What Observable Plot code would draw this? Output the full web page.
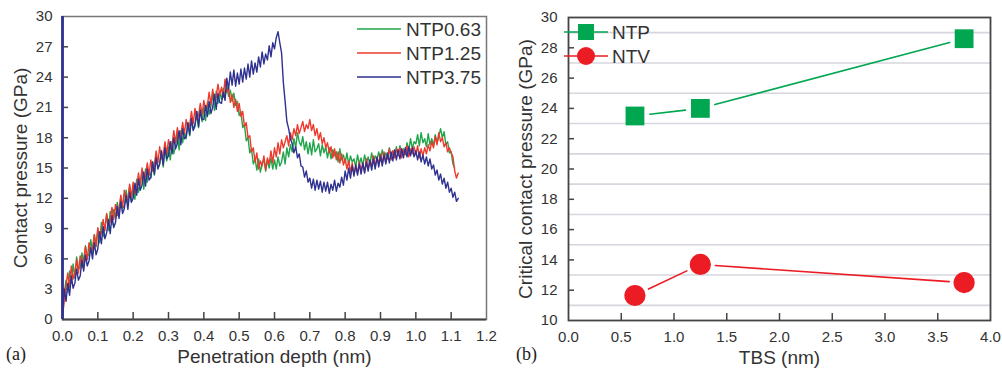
<!DOCTYPE html>
<html>
<head>
<meta charset="utf-8">
<script src="https://cdn.jsdelivr.net/npm/d3@7"></script>
<script src="https://cdn.jsdelivr.net/npm/@observablehq/plot@0.6"></script>
<style>
  body { margin: 0; background: #fff; }
  #wrap { position: relative; width: 1002px; height: 370px; overflow: hidden; font-family: "Liberation Sans", Arial, sans-serif; }
  #panelA, #panelB { position: absolute; top: 0; }
  #panelA { left: 0; }
  #panelB { left: 500px; }
  .tag { position: absolute; top: 344px; font-family: "Liberation Serif", "Times New Roman", serif; font-size: 18px; color: #222; }
  #legends { position: absolute; left: 0; top: 0; pointer-events: none; }
</style>
</head>
<body>
<div id="wrap">
  <div id="panelA"></div>
  <div id="panelB"></div>
  <div class="tag" style="left:6px">(a)</div>
  <div class="tag" style="left:516px">(b)</div>
  <svg id="legends" width="1002" height="370"></svg>
</div>
<script>
// ---- Panel (a): contact pressure (GPa) vs penetration depth (nm) ----
const depth = [
  0.000,0.005,0.010,0.015,0.020,0.025,0.030,0.035,0.040,0.045,
  0.050,0.055,0.060,0.065,0.070,0.075,0.080,0.085,0.090,0.095,
  0.100,0.105,0.110,0.115,0.120,0.125,0.130,0.135,0.140,0.145,
  0.150,0.155,0.160,0.165,0.170,0.175,0.180,0.185,0.190,0.195,
  0.200,0.205,0.210,0.215,0.220,0.225,0.230,0.235,0.240,0.245,
  0.250,0.255,0.260,0.265,0.270,0.275,0.280,0.285,0.290,0.295,
  0.300,0.305,0.310,0.315,0.320,0.325,0.330,0.335,0.340,0.345,
  0.350,0.355,0.360,0.365,0.370,0.375,0.380,0.385,0.390,0.395,
  0.400,0.405,0.410,0.415,0.420,0.425,0.430,0.435,0.440,0.445,
  0.450,0.455,0.460,0.465,0.470,0.475,0.480,0.485,0.490,0.495,
  0.500,0.505,0.510,0.515,0.520,0.525,0.530,0.535,0.540,0.545,
  0.550,0.555,0.560,0.565,0.570,0.575,0.580,0.585,0.590,0.595,
  0.600,0.605,0.610,0.615,0.620,0.625,0.630,0.635,0.640,0.645,
  0.650,0.655,0.660,0.665,0.670,0.675,0.680,0.685,0.690,0.695,
  0.700,0.705,0.710,0.715,0.720,0.725,0.730,0.735,0.740,0.745,
  0.750,0.755,0.760,0.765,0.770,0.775,0.780,0.785,0.790,0.795,
  0.800,0.805,0.810,0.815,0.820,0.825,0.830,0.835,0.840,0.845,
  0.850,0.855,0.860,0.865,0.870,0.875,0.880,0.885,0.890,0.895,
  0.900,0.905,0.910,0.915,0.920,0.925,0.930,0.935,0.940,0.945,
  0.950,0.955,0.960,0.965,0.970,0.975,0.980,0.985,0.990,0.995,
  1.000,1.005,1.010,1.015,1.020,1.025,1.030,1.035,1.040,1.045,
  1.050,1.055,1.060,1.065,1.070,1.075,1.080,1.085,1.090,1.095,
  1.100,1.105,1.110,1.115,1.120
];

const ntp063 = [
  0.0,2.6,3.9,2.7,4.8,3.6,5.5,4.1,6.2,5.0,
  5.2,6.6,5.4,7.3,6.2,6.5,7.9,6.6,8.4,7.2,
  8.9,7.6,9.6,8.2,9.1,10.4,8.8,10.7,9.4,10.9,
  10.1,11.6,10.4,12.2,11.0,11.3,12.8,11.4,13.1,11.7,
  13.2,11.9,13.9,12.6,13.4,14.6,12.9,14.9,13.6,14.8,
  14.0,15.6,14.3,16.2,15.0,15.4,16.7,15.1,17.0,15.7,
  17.1,15.8,17.6,16.4,17.2,18.4,16.8,18.7,17.5,18.6,
  17.9,19.4,18.2,19.9,18.8,19.1,20.6,19.0,20.8,19.6,
  21.0,19.7,21.5,20.3,21.1,22.4,20.7,22.6,21.4,22.5,
  21.8,22.9,22.0,23.2,22.1,22.7,21.6,22.4,21.2,21.6,
  20.2,20.6,19.0,19.3,17.7,18.0,16.5,16.9,15.4,15.9,
  14.8,15.9,14.6,15.4,15.9,14.7,15.8,15.0,16.0,14.9,
  15.8,14.9,16.1,15.2,15.6,16.6,15.4,17.0,16.1,17.3,
  16.6,17.9,17.0,18.5,17.6,17.2,18.1,16.8,17.6,16.4,
  17.5,16.3,17.8,16.6,16.9,17.4,16.2,17.3,16.5,17.1,
  16.0,17.0,15.9,16.8,16.2,16.6,15.6,16.9,15.8,16.3,
  15.5,16.5,15.3,16.2,15.6,15.9,15.1,16.3,15.4,16.0,
  15.2,16.3,15.5,16.1,15.3,16.5,15.6,16.2,15.8,16.6,
  15.7,16.8,16.0,16.5,15.9,17.0,16.2,16.7,16.1,17.1,
  16.3,17.2,16.5,16.9,16.4,17.5,16.7,17.9,16.9,17.6,
  17.4,18.3,17.2,18.5,17.5,17.9,17.1,18.4,17.3,17.9,
  17.2,18.3,17.5,18.1,18.9,18.0,18.6,17.3,17.6,16.5,
  16.6,15.4,15.0
];

const ntp125 = [
  0.3,1.9,3.4,4.6,3.2,5.3,4.0,4.7,5.9,4.6,
  6.3,5.1,6.0,7.2,5.9,7.6,6.7,7.0,8.4,7.3,
  9.1,8.0,8.6,9.9,8.8,10.5,9.3,9.7,11.1,9.9,
  11.4,10.3,10.9,12.3,11.1,12.8,11.6,12.0,13.4,12.1,
  13.6,12.5,13.1,14.5,13.3,15.0,13.8,14.2,15.5,14.3,
  15.8,14.7,15.3,16.7,15.5,17.1,15.9,16.3,17.6,16.4,
  17.8,16.8,17.3,18.7,17.5,19.0,17.9,18.3,19.5,18.4,
  19.8,18.8,19.3,20.6,19.4,20.9,19.8,20.2,21.4,20.3,
  21.7,20.7,21.2,22.5,21.3,22.8,21.7,22.1,23.3,22.2,
  23.0,22.0,23.8,22.5,22.9,21.5,22.3,21.0,21.8,20.6,
  21.4,20.1,20.6,19.1,19.5,18.0,18.2,16.6,17.0,15.6,
  16.5,14.9,15.7,15.2,16.2,14.8,16.0,15.4,16.7,15.5,
  17.0,16.1,17.5,16.4,17.8,17.0,17.6,18.2,17.2,18.5,
  17.8,18.9,18.2,19.3,18.4,19.0,19.6,18.6,19.3,18.9,
  19.8,18.7,19.3,18.2,18.9,17.8,18.5,17.4,18.0,17.0,
  17.5,16.5,17.1,16.0,16.9,15.8,16.6,15.5,16.4,15.3,
  15.9,14.9,15.7,14.6,15.5,14.4,15.2,14.5,15.6,14.7,
  15.4,14.6,15.9,14.9,15.7,15.2,16.2,15.1,16.0,15.5,
  16.4,15.4,16.6,15.6,16.1,16.9,15.8,16.7,16.0,16.9,
  16.2,17.0,16.0,16.8,16.3,17.2,16.1,16.9,16.4,17.1,
  16.3,17.2,16.0,16.9,16.2,17.0,16.4,17.3,16.7,17.6,
  17.0,18.1,17.3,18.5,17.6,18.0,17.1,17.5,16.6,17.0,
  16.5,16.1,14.7,14.0,14.5
];

const ntp375 = [
  1.0,3.0,1.8,3.6,2.4,4.3,3.1,3.6,5.0,3.9,
  4.3,5.9,4.8,6.4,5.3,5.8,7.1,6.0,7.6,6.4,
  7.0,8.7,7.5,9.2,8.0,8.6,9.9,8.5,10.3,9.1,
  9.6,11.2,10.0,11.7,10.5,11.0,12.3,10.9,12.6,11.6,
  12.0,13.5,12.3,13.9,12.8,13.3,14.6,13.2,14.9,13.8,
  14.1,15.6,14.4,16.0,14.9,15.4,16.7,15.3,17.0,15.9,
  16.2,17.6,16.4,18.0,16.9,17.4,18.7,17.3,18.9,17.9,
  18.1,19.5,18.3,19.9,18.7,19.3,20.6,19.1,20.7,19.8,
  19.8,21.2,20.1,21.6,20.4,21.0,22.3,20.8,22.4,21.5,
  21.4,22.5,21.7,23.9,22.8,24.5,23.2,24.7,23.1,24.4,
  23.3,24.8,23.5,24.9,23.8,25.3,24.0,25.6,24.3,25.4,
  24.5,26.0,25.0,26.5,25.3,26.3,25.7,27.1,26.0,27.4,
  26.8,27.9,28.5,27.4,26.4,23.5,21.6,19.6,18.9,17.9,
  17.4,16.5,17.1,16.0,16.4,15.2,15.1,14.1,14.7,13.6,
  14.0,13.0,13.9,12.8,13.8,12.9,13.7,12.6,13.6,12.7,
  13.6,12.5,13.4,12.8,13.8,12.7,13.5,13.1,14.1,13.3,
  14.7,13.8,15.0,14.0,15.2,14.2,15.3,14.3,15.4,14.4,
  15.5,14.5,15.6,14.7,15.8,14.8,15.9,14.9,16.1,15.1,
  16.2,15.2,16.3,15.4,16.5,15.5,16.6,15.7,16.8,15.8,
  16.8,15.9,16.9,16.0,17.0,16.1,17.1,16.2,17.0,16.1,
  16.7,15.8,16.6,15.6,16.3,15.4,16.1,15.2,15.9,14.9,
  15.3,14.3,14.8,13.8,14.4,13.4,14.0,13.0,13.6,12.6,
  13.0,12.1,12.6,11.7,12.0
];

const seriesNames = ["NTP0.63", "NTP1.25", "NTP3.75"];
const seriesColors = ["#20a54b", "#ee3a2c", "#2f3191"];
const pressureXTicks = [0.0,0.1,0.2,0.3,0.4,0.5,0.6,0.7,0.8,0.9,1.0,1.1,1.2];
const pressureYTicks = [0,3,6,9,12,15,18,21,24,27,30];

// ---- Panel (b): critical contact pressure vs TBS ----
const tbs = [0.63, 1.25, 3.75];
const ntpCritical = [23.5, 24.0, 28.6];
const ntvCritical = [11.65, 13.7, 12.5];
const criticalNames = ["NTP", "NTV"];
const criticalColors = ["#00a650", "#ec1c24"];
const tbsTicks = [0.0,0.5,1.0,1.5,2.0,2.5,3.0,3.5,4.0];
const criticalYTicks = [10,12,14,16,18,20,22,24,26,28,30];
const criticalGrid = [11,13,15,17,19,21,23,25,27,29];

const axisColor = "#444";
const textColor = "#333";
const fontStack = '"Liberation Sans", Arial, sans-serif';
const baseStyle = { fontFamily: fontStack, fontSize: "15px", color: textColor, background: "transparent" };
const titleOpts = { fontSize: 19, fill: textColor, textAnchor: "middle", lineAnchor: "middle" };

const curveRows = [ntp063, ntp125, ntp375].flatMap((vals, s) =>
  vals.map((p, i) => ({ depth: depth[i], pressure: p, series: seriesNames[s] }))
);

const chartA = Plot.plot({
  width: 500, height: 370,
  marginLeft: 62, marginRight: 14, marginTop: 16, marginBottom: 51,
  style: baseStyle,
  x: { domain: [0, 1.2] },
  y: { domain: [0, 30] },
  color: { domain: seriesNames, range: seriesColors },
  marks: [
    Plot.axisX({ ticks: pressureXTicks, tickSize: 0, tickPadding: 11, tickFormat: d3.format(".1f"), label: null }),
    Plot.axisY({ ticks: pressureYTicks, tickSize: 0, tickPadding: 10, tickFormat: d3.format("d"), label: null }),
    // inward tick marks
    Plot.ruleX(pressureXTicks.slice(1, -1), { x: d => d, y1: 0, y2: 0.7, stroke: axisColor, strokeWidth: 1.5 }),
    Plot.ruleY(pressureYTicks.slice(1, -1), { y: d => d, x1: 0, x2: 0.017, stroke: axisColor, strokeWidth: 1.5 }),
    // frame: grey top/right, dark bottom, blue left
    Plot.frame({ stroke: "#777", strokeWidth: 1.5 }),
    Plot.lineY(curveRows, { x: "depth", y: "pressure", z: "series", stroke: "series", strokeWidth: 1.4 }),
    Plot.ruleY([0], { stroke: axisColor, strokeWidth: 2 }),
    Plot.ruleX([0], { stroke: "#2f3191", strokeWidth: 2.8 }),
    Plot.text(["Penetration depth (nm)"], { text: d => d, frameAnchor: "bottom", dy: 37, ...titleOpts }),
    Plot.text(["Contact pressure (GPa)"], { text: d => d, frameAnchor: "left", rotate: -90, dx: -42, ...titleOpts })
  ]
});
document.getElementById("panelA").append(chartA);

const pointRows = [ntpCritical, ntvCritical].flatMap((vals, s) =>
  vals.map((v, i) => ({ tbs: tbs[i], value: v, series: criticalNames[s] }))
);
const segmentRows = [ntpCritical, ntvCritical].flatMap((vals, s) =>
  vals.slice(1).map((v, i) => ({ x1: tbs[i], y1: vals[i], x2: tbs[i + 1], y2: v, series: criticalNames[s] }))
);

const chartB = Plot.plot({
  width: 502, height: 370,
  marginLeft: 68, marginRight: 12, marginTop: 17, marginBottom: 50,
  style: baseStyle,
  x: { domain: [0, 4] },
  y: { domain: [10, 30] },
  color: { domain: criticalNames, range: criticalColors },
  symbol: { domain: criticalNames, range: ["square", "circle"] },
  marks: [
    Plot.ruleY(criticalGrid, { y: d => d, stroke: "#d6d6de", strokeWidth: 1.6 }),
    Plot.axisX({ ticks: tbsTicks, tickSize: 0, tickPadding: 11, tickFormat: d3.format(".1f"), label: null }),
    Plot.axisY({ ticks: criticalYTicks, tickSize: 0, tickPadding: 11, tickFormat: d3.format("d"), label: null }),
    Plot.ruleX(tbsTicks.slice(1, -1), { x: d => d, y1: 10, y2: 10.46, stroke: axisColor, strokeWidth: 1.5 }),
    Plot.ruleY(criticalYTicks.slice(1, -1), { y: d => d, x1: 0, x2: 0.057, stroke: axisColor, strokeWidth: 1.5 }),
    Plot.frame({ stroke: axisColor, strokeWidth: 1.8 }),
    Plot.arrow(segmentRows, { x1: "x1", y1: "y1", x2: "x2", y2: "y2", stroke: "series", strokeWidth: 1.6, headLength: 0, insetStart: 15, insetEnd: 15 }),
    Plot.dot(pointRows, { x: "tbs", y: "value", fill: "series", symbol: "series", r: 10.6, stroke: "none" }),
    Plot.text(["TBS (nm)"], { text: d => d, frameAnchor: "bottom", dy: 37, ...titleOpts }),
    Plot.text(["Critical contact pressure (GPa)"], { text: d => d, frameAnchor: "left", rotate: -90, dx: -43, ...titleOpts })
  ]
});
document.getElementById("panelB").append(chartB);

// ---- Legends ----
const legend = d3.select("#legends");
const legendA = legend.append("g");
seriesNames.forEach((name, i) => {
  const y = 29 + i * 24;
  legendA.append("line").attr("x1", 357).attr("x2", 401).attr("y1", y).attr("y2", y)
    .attr("stroke", seriesColors[i]).attr("stroke-width", 1.6);
  legendA.append("text").attr("x", 406).attr("y", y).attr("dy", "0.35em")
    .attr("font-size", 19).attr("font-family", fontStack)
    .attr("fill", textColor).text(name);
});
const legendB = legend.append("g");
criticalNames.forEach((name, i) => {
  const y = 32 + i * 24;
  legendB.append("line").attr("x1", 564).attr("x2", 608).attr("y1", y).attr("y2", y)
    .attr("stroke", criticalColors[i]).attr("stroke-width", 1.6);
  if (i === 0) {
    legendB.append("rect").attr("x", 578).attr("y", y - 8).attr("width", 16).attr("height", 16).attr("fill", criticalColors[i]);
  } else {
    legendB.append("circle").attr("cx", 586).attr("cy", y).attr("r", 9).attr("fill", criticalColors[i]);
  }
  legendB.append("text").attr("x", 612).attr("y", y).attr("dy", "0.35em")
    .attr("font-size", 19).attr("font-family", fontStack)
    .attr("fill", textColor).text(name);
});
</script>
</body>
</html>
